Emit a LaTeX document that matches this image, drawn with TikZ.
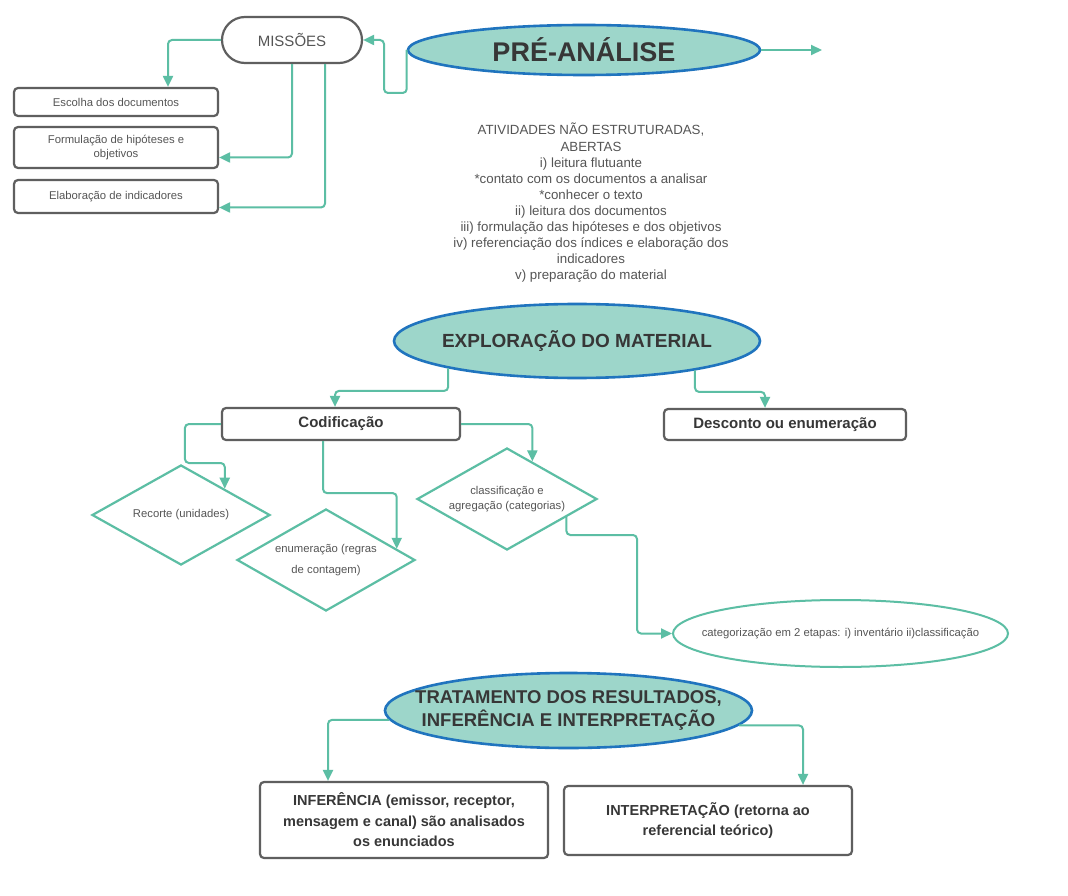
\documentclass[tikz,border=0pt]{standalone}
\usepackage{fontspec}
\setmainfont{Liberation Sans}
\usetikzlibrary{shapes.geometric,arrows.meta}
\definecolor{teal1}{RGB}{92,190,164}
\definecolor{efill}{RGB}{157,214,202}
\definecolor{eblue}{RGB}{32,116,190}
\definecolor{bgray}{RGB}{95,95,95}
\definecolor{txt}{RGB}{55,55,55}
\definecolor{txtl}{RGB}{85,85,85}
\begin{document}
\begin{tikzpicture}[x=1pt,y=-1pt,
  arr/.style={draw=teal1, line width=2pt, rounded corners=4pt, -{Triangle[length=11pt,width=10pt]}},
  bigell/.style={ellipse, draw=eblue, fill=efill, line width=2.6pt, inner xsep=-40pt, inner ysep=0pt, text=txt, align=center},
  box/.style={rectangle, rounded corners=4pt, draw=bgray, line width=2.2pt, inner sep=0pt, text=txtl, align=center},
  dia/.style={diamond, shape aspect=1.78, draw=teal1, line width=2.2pt, inner sep=0pt, text=txtl, align=center},
  small/.style={font=\fontsize{11.3}{14}\selectfont},
]
\useasboundingbox (0,0) rectangle (1068,896);
\fill[white] (0,0) rectangle (1068,896);

% top
\node[box, minimum width=140pt, minimum height=46pt, rounded corners=23pt, font=\fontsize{15}{18}\selectfont] (miss) at (292,40) {MISSÕES};
\node[bigell, minimum width=352pt, minimum height=50pt, font=\bfseries\fontsize{27}{30}\selectfont] (pre) at (584,50) {PRÉ-ANÁLISE};
\coordinate (preout) at (822,50);

\node[box, small, minimum width=204pt, minimum height=28pt] (esc) at (116,102) {Escolha dos documentos};
\node[box, small, minimum width=204pt, minimum height=41pt] (form) at (116,147.5) {Formulação de hipóteses e\\objetivos};
\node[box, small, minimum width=204pt, minimum height=33pt] (elab) at (116,196.5) {Elaboração de indicadores};

\node[text=txtl, align=center, font=\fontsize{13.3}{16.1}\selectfont] (ativ) at (591,203) {ATIVIDADES NÃO ESTRUTURADAS,\\ABERTAS\\i) leitura flutuante\\*contato com os documentos a analisar\\*conhecer o texto\\ii) leitura dos documentos\\iii) formulação das hipóteses e dos objetivos\\iv) referenciação dos índices e elaboração dos\\indicadores\\v) preparação do material};

% middle
\node[bigell, minimum width=366pt, minimum height=74pt, font=\bfseries\fontsize{19}{22}\selectfont] (expl) at (577,341) {EXPLORAÇÃO DO MATERIAL};
\node[box, minimum width=238pt, minimum height=32pt, text=txt, font=\bfseries\fontsize{15}{18}\selectfont] (cod) at (341,424) {Codificação};
\node[box, minimum width=242pt, minimum height=31pt, text=txt, font=\bfseries\fontsize{15}{18}\selectfont] (desc) at (785,424.5) {Desconto ou enumeração};

\node[dia, minimum width=178pt, minimum height=100pt, font=\fontsize{11.3}{14}\selectfont] (rec) at (181,515) {Recorte (unidades)};
\node[dia, minimum width=178pt, minimum height=102pt, font=\fontsize{11.3}{21}\selectfont] (enum) at (326,560) {enumeração (regras\\de contagem)};
\node[dia, minimum width=180pt, minimum height=102pt, font=\fontsize{11.3}{15}\selectfont] (class) at (507,499) {classificação e\\agregação (categorias)};

\node[ellipse, draw=teal1, line width=2pt, minimum width=335pt, minimum height=67pt, inner xsep=-80pt, inner ysep=0pt, text=txtl, font=\fontsize{11.3}{14}\selectfont] (categ) at (840.5,633.5) {categorização em 2 etapas: i) inventário ii)classificação};

% bottom
\node[bigell, minimum width=367pt, minimum height=75pt, font=\bfseries\fontsize{18.5}{23}\selectfont] (trat) at (568.5,710.5) {TRATAMENTO DOS RESULTADOS,\\INFERÊNCIA E INTERPRETAÇÃO};
\node[box, minimum width=288pt, minimum height=76pt, text=txt, font=\bfseries\fontsize{14.5}{20.5}\selectfont] (inf) at (404,820) {INFERÊNCIA (emissor, receptor,\\mensagem e canal) são analisados\\os enunciados};
\node[box, minimum width=288pt, minimum height=69pt, text=txt, font=\bfseries\fontsize{14.5}{20.5}\selectfont] (interp) at (708,820.5) {INTERPRETAÇÃO (retorna ao\\referencial teórico)};

% connectors
\draw[arr] (pre.east) -- (preout);
\draw[arr] (pre.west) |- (384,93) |- (miss.east);
\draw[arr] (miss.west) -| ([xshift=52pt]esc.north);
\draw[arr] (miss.south) |- ([yshift=-10pt]form.east);
\draw[arr] ([xshift=33pt]miss.south) |- ([yshift=-11pt]elab.east);

\draw[arr] (expl.192) |- ([xshift=-6pt,yshift=16pt]cod.north) -- ([xshift=-6pt]cod.north);
\draw[arr] (expl.346) |- ([xshift=-20pt,yshift=16pt]desc.north) -- ([xshift=-20pt]desc.north);

\draw[arr] (cod.west) -- ++(-36,0) -- ++(0,39) -| (rec.31);
\draw[arr] ([xshift=-18pt]cod.south) -- ++(0,52) -| (enum.9);
\draw[arr] (cod.east) -| (class.56);
\draw[arr] (class.-17) |- (637,535) |- (categ.west);

\draw[arr] (trat.183) -| ([xshift=-76pt]inf.north);
\draw[arr] (trat.355) -| ([xshift=95pt]interp.north);
\end{tikzpicture}
\end{document}
